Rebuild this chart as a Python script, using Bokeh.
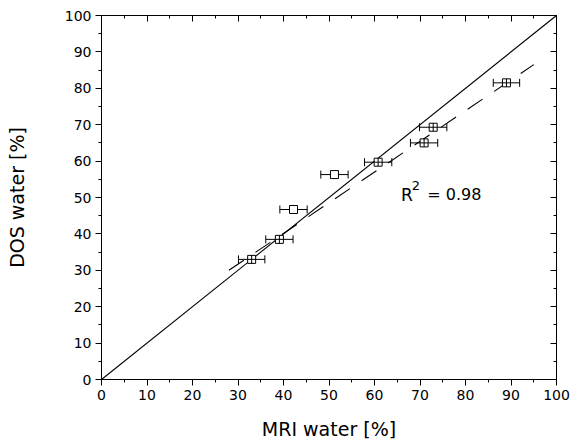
from bokeh.plotting import figure
from bokeh.models import Range1d, LinearAxis, SingleIntervalTicker, Whisker, TeeHead, ColumnDataSource, Label
from bokeh.embed import file_html
from bokeh.resources import INLINE

# data
mri_water = [33.0, 39.1, 42.2, 51.2, 60.8, 70.9, 72.9, 89.0]
dos_water = [33.0, 38.5, 46.7, 56.3, 59.7, 65.0, 69.3, 81.5]
mri_err = [2.9, 3.0, 3.0, 3.0, 3.0, 3.0, 3.0, 2.9]
marker_kind = ["square_cross", "square_cross", "square", "square",
               "square_cross", "square_cross", "square_cross", "square_cross"]
identity_x = [0, 100]
identity_y = [0, 100]
fit_x = [28.0, 95.0]
fit_y = [30.0, 86.5]
r2_text = "0.98"

FONT = "DejaVu Sans"

src = ColumnDataSource(data=dict(
    x=mri_water, y=dos_water,
    lo=[a - e for a, e in zip(mri_water, mri_err)],
    hi=[a + e for a, e in zip(mri_water, mri_err)],
    m=marker_kind,
))

p = figure(width=570, height=444, output_backend="svg", toolbar_location=None,
           x_range=Range1d(0, 100), y_range=Range1d(0, 100),
           x_axis_location=None, y_axis_location=None,
           min_border_left=101, min_border_right=14, min_border_top=15, min_border_bottom=65)
p.xgrid.visible = False
p.ygrid.visible = False
p.outline_line_color = "black"
p.outline_line_width = 1
p.background_fill_color = "white"
p.border_fill_color = "white"


def mk_axis(loc, label=None):
    ax = LinearAxis(ticker=SingleIntervalTicker(interval=10, num_minor_ticks=2))
    ax.axis_line_color = "black"
    ax.major_tick_line_color = "black"
    ax.minor_tick_line_color = "black"
    ax.major_label_text_font = FONT
    ax.major_label_text_font_size = "14px"
    ax.major_label_text_color = "black"
    if loc in ("below", "left"):
        ax.major_tick_out = 6
        ax.major_tick_in = 0
        ax.minor_tick_out = 3
        ax.minor_tick_in = 0
        ax.major_label_standoff = 4
        ax.axis_label = label
        ax.axis_label_text_font = FONT
        ax.axis_label_text_font_size = "19px"
        ax.axis_label_text_font_style = "normal"
        ax.axis_label_text_color = "black"
    else:
        ax.major_tick_out = 0
        ax.major_tick_in = 6
        ax.minor_tick_out = 0
        ax.minor_tick_in = 3
        ax.major_label_text_font_size = "0px"
        ax.major_label_text_color = None
        ax.major_label_standoff = 0
    p.add_layout(ax, loc)
    return ax

xb = mk_axis("below", "MRI water [%]")
xb.axis_label_standoff = 15
yl = mk_axis("left", "DOS water [%]")
yl.axis_label_standoff = 34
mk_axis("above")
mk_axis("right")

# identity line and fit
p.line(identity_x, identity_y, line_color="black", line_width=1.1)
p.line(fit_x, fit_y, line_color="black", line_width=1.1, line_dash="18 14")

# error bars
w = Whisker(source=src, base="y", lower="lo", upper="hi", dimension="width",
            line_color="black", line_width=1,
            lower_head=TeeHead(size=8, line_color="black", line_width=1),
            upper_head=TeeHead(size=8, line_color="black", line_width=1))
p.add_layout(w)

p.scatter("x", "y", source=src, marker="m", size=8, fill_color="white",
          line_color="black", line_width=1)

# R^2 label
p.add_layout(Label(x=65.8, y=50.7, text="R", text_font=FONT, text_font_size="17px",
                   text_baseline="alphabetic", text_color="black"))
p.add_layout(Label(x=68.2, y=53.2, text="2", text_font=FONT, text_font_size="13px",
                   text_baseline="alphabetic", text_color="black"))
p.add_layout(Label(x=71.6, y=50.7, text="= " + r2_text, text_font=FONT, text_font_size="16px",
                   text_baseline="alphabetic", text_color="black"))

open("out.html", "w").write(file_html(p, INLINE))
